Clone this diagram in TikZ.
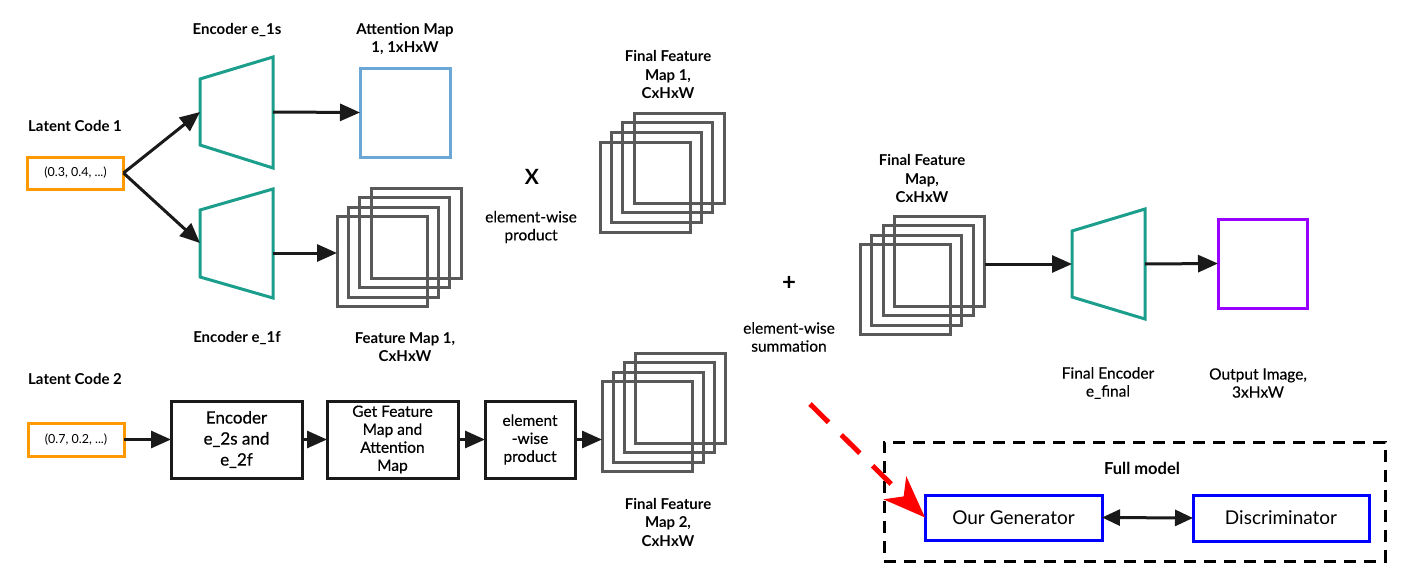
\documentclass[tikz,border=0pt]{standalone}
\usepackage{fontspec}
\setmainfont{Lato}
\newfontface\medfont{Lato}[FakeBold=0.5]
\newfontface\semifont{Lato}[FakeBold=0.3]
\usetikzlibrary{arrows.meta}
\definecolor{encteal}{HTML}{1B9E8B}
\definecolor{codeorange}{HTML}{FF9900}
\definecolor{attblue}{HTML}{6AA6D6}
\definecolor{fmgray}{HTML}{595959}
\definecolor{outpurple}{HTML}{9900FF}
\definecolor{genblue}{HTML}{0000FF}
\definecolor{arrblack}{HTML}{1A1A1A}
\begin{document}
\begin{tikzpicture}[x=1pt,y=-1pt,
  lbl/.style={font=\bfseries\fontsize{15}{18.5}\selectfont, align=center, inner sep=0pt},
  txt/.style={font=\semifont\fontsize{15.5}{18}\selectfont, align=center, inner sep=0pt},
  enc/.style={draw=encteal, line width=3pt, line join=miter},
  fm/.style={draw=fmgray, line width=3pt, minimum width=90pt, minimum height=90pt, inner sep=0pt, outer sep=0pt},
  code/.style={draw=codeorange, line width=3pt, minimum width=96pt, minimum height=32pt, inner sep=0pt, outer sep=0pt, font=\fontsize{12.5}{15}\selectfont},
  blk/.style={draw=arrblack, line width=3pt, minimum height=77pt, inner sep=0pt, outer sep=0pt, align=center},
  gbox/.style={draw=genblue, line width=3pt, minimum width=177pt, minimum height=45pt, inner sep=0pt, outer sep=0pt, font=\fontsize{19}{22}\selectfont},
  arr/.style={draw=arrblack, line width=3pt, -{Triangle[length=20pt,width=17pt]}},
]
\useasboundingbox (0,0) rectangle (1406,570);

% ---- top-left: latent code 1
\node[lbl] (lc1) at (75,126) {Latent Code 1};
\node[code] (c1) at (75.5,173) {(0.3, 0.4, ...)};

% encoder e_1s
\draw[enc] (200,79) -- (273,57) -- (273,168) -- (200,145) -- cycle;
\coordinate (e1sL) at (200,112);
\coordinate (e1sR) at (273,112);
\node[lbl] (le1s) at (237,30) {Encoder e\_1s};

% encoder e_1f
\draw[enc] (200,210) -- (273,189) -- (273,298) -- (200,277) -- cycle;
\coordinate (e1fL) at (200,243);
\coordinate (e1fR) at (273,253);
\node[lbl] (le1f) at (237,338) {Encoder e\_1f};

\draw[arr] (c1.east) -- (e1sL);
\draw[arr] (c1.east) -- (e1fL);

% attention map
\node[draw=attblue, line width=3pt, minimum width=90pt, minimum height=89pt, inner sep=0pt, outer sep=0pt] (att) at (405,112.5) {};
\node[lbl] (latt) at (405,39) {Attention Map\\1, 1xHxW};
\draw[arr] (e1sR) -- (att.west);

% feature map 1 stack
\node[fm] (s1d) at (416,233) {};
\node[fm] (s1c) at (404.7,242.5) {};
\node[fm] (s1b) at (393.3,252) {};
\node[fm] (s1a) at (382,261.5) {};
\node[lbl] (ls1) at (405,347) {Feature Map 1,\\CxHxW};
\draw[arr] (e1fR) -- (e1fR -| s1a.west);

% X element-wise product
\node[font=\bfseries\fontsize{21}{24}\selectfont, inner sep=0pt] (times) at (532,177) {X};
\node[txt] (lprod) at (531,227) {element-wise\\product};

% final feature map 1
\node[fm] (f1d) at (679,158) {};
\node[fm] (f1c) at (667.7,167.7) {};
\node[fm] (f1b) at (656.3,177.3) {};
\node[fm] (f1a) at (645,187) {};
\node[lbl] (lf1) at (668,74.5) {Final Feature\\Map 1,\\CxHxW};

% plus element-wise summation
\node[font=\bfseries\fontsize{24}{28}\selectfont, inner sep=0pt] (plus) at (789,283) {+};
\node[txt] (lsum) at (789,337) {element-wise\\summation};

% final feature map
\node[fm] (f3d) at (939.5,261.5) {};
\node[fm] (f3c) at (928.2,270.8) {};
\node[fm] (f3b) at (916.8,280.2) {};
\node[fm] (f3a) at (905.5,289.5) {};
\node[lbl] (lf3) at (922,178.5) {Final Feature\\Map,\\CxHxW};

% final encoder
\draw[enc] (1072,231) -- (1145,209) -- (1145,319) -- (1072,297) -- cycle;
\coordinate (efL) at (1072,264);
\coordinate (efR) at (1145,264);
\node[txt] (lef) at (1108,383) {Final Encoder\\e\_final};
\draw[arr] (f3d.east |- efL) -- (efL);

% output image
\node[draw=outpurple, line width=3pt, minimum width=89pt, minimum height=89pt, inner sep=0pt, outer sep=0pt] (out) at (1262.5,263.5) {};
\node[txt] (lout) at (1258,383) {Output Image,\\3xHxW};
\draw[arr] (efR) -- (out.west);

% ---- bottom row
\node[lbl] (lc2) at (75,379) {Latent Code 2};
\node[code, minimum height=33pt] (c2) at (76,439.5) {(0.7, 0.2, ...)};
\node[blk, minimum width=131pt, font=\medfont\fontsize{17}{21}\selectfont] (enc2) at (236.5,439.5) {Encoder\\e\_2s and\\e\_2f};
\node[blk, minimum width=131pt, font=\medfont\fontsize{15.5}{18}\selectfont] (get) at (392.5,439.5) {Get Feature\\Map and\\Attention\\Map};
\node[blk, minimum width=90pt, font=\medfont\fontsize{15.5}{18}\selectfont] (ew) at (530,439.5) {element\\-wise\\product};
\draw[arr] (c2.east) -- (enc2.west);
\draw[arr] (enc2.east) -- (get.west);
\draw[arr] (get.east) -- (ew.west);

% final feature map 2
\node[fm] (f2d) at (680.5,398) {};
\node[fm] (f2c) at (669.3,407.5) {};
\node[fm] (f2b) at (658.2,417) {};
\node[fm] (f2a) at (647,426.5) {};
\node[lbl] (lf2) at (668,522) {Final Feature\\Map 2,\\CxHxW};
\draw[arr] (ew.east) -- (ew.east -| f2a.west);

% ---- full model
\node[draw=black, line width=3pt, dash pattern=on 12pt off 8pt, minimum width=501pt, minimum height=119pt, inner sep=0pt, outer sep=0pt] (full) at (1134.5,501.5) {};
\node[font=\bfseries\fontsize{16.5}{20}\selectfont, inner sep=0pt] (lfull) at (1142,468) {Full model};
\node[gbox] (gen) at (1013.5,517.5) {Our Generator};
\node[gbox, minimum width=176pt, minimum height=46pt] (disc) at (1281,518) {Discriminator};
\draw[draw=arrblack, line width=3pt, {Triangle[length=18pt,width=16pt]}-{Triangle[length=18pt,width=16pt]}] (gen.east) -- (disc.west);

\coordinate (rs) at (810,404);
\draw[draw=red, line width=5pt, dash pattern=on 26pt off 18pt, -{Stealth[length=42pt,width=32pt,inset=12pt,fill=red]}] (rs) -- (gen.west);
\end{tikzpicture}
\end{document}
